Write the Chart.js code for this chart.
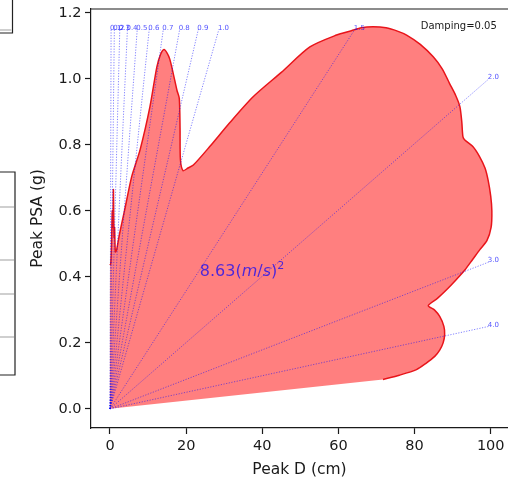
<!DOCTYPE html>
<html>
<head>
<meta charset="utf-8">
<script src="https://cdn.jsdelivr.net/npm/chart.js@4.4.0/dist/chart.umd.min.js"></script>
<style>
    body { margin: 0; background: #fff; }
    canvas { display: block; }
</style>
</head>
<body>
<canvas id="myChart" width="508" height="483"></canvas>
<script>
// spectrum trace: Peak D (cm) against Peak PSA (g)
const peakD = [0, 0.2, 0.4, 0.6, 0.75, 0.9, 1.05, 1.2, 1.4, 1.7, 2.5, 3.8, 5.7, 7.9, 10.5, 12.3, 13.3, 14.2,
    15.0, 15.7, 16.6, 17.6, 18.2, 18.4, 18.5, 19.2, 20.5, 21.9, 26.2, 31.5, 37.6, 45, 52.5, 59.5, 63.4,
    66, 69.1, 72.5, 75.5, 77.9, 81.5, 84.9, 87.3, 89.2, 90.8, 91.9, 92.4, 92.7, 93.2, 95.3, 97.1, 98.5,
    99.3, 100, 100.3, 100.1, 99, 97.1, 95.2, 93.2, 90.8, 88.4, 86, 83.6, 85.2, 86.6, 87.7, 87.9, 87.5,
    86.6, 85.3, 83, 80.5, 76, 71.7];
const peakPSA = [0.436, 0.44, 0.5, 0.6, 0.55, 0.665, 0.52, 0.55, 0.476, 0.48, 0.53, 0.6, 0.704, 0.785, 0.916, 1.036, 1.075, 1.089,
    1.078, 1.06, 1.017, 0.965, 0.941, 0.85, 0.755, 0.722, 0.73, 0.739, 0.795, 0.868, 0.946, 1.02, 1.097, 1.133, 1.146,
    1.155, 1.158, 1.155, 1.145, 1.133, 1.105, 1.067, 1.03, 0.986, 0.95, 0.916, 0.87, 0.825, 0.815, 0.795, 0.764, 0.73,
    0.694, 0.645, 0.6, 0.55, 0.51, 0.482, 0.452, 0.421, 0.39, 0.361, 0.335, 0.313, 0.3, 0.28, 0.25, 0.225, 0.2,
    0.178, 0.159, 0.138, 0.119, 0.102, 0.089];

// constant period guide lines (s), each from the origin to its end point
const periods = ['0.1', '0.2', '0.3', '0.4', '0.5', '0.6', '0.7', '0.8', '0.9', '1.0', '1.5', '2.0', '3.0', '4.0'];
const periodEndD = [0.286, 1.144, 2.575, 4.577, 7.15, 10.3, 14.0, 18.3, 23.2, 28.6, 64.3, 99.5, 99.5, 99.5];
const periodEndPSA = [1.15, 1.15, 1.15, 1.15, 1.15, 1.15, 1.15, 1.15, 1.15, 1.15, 1.15, 1.0, 0.445, 0.25];

const xTicks = [0, 20, 40, 60, 80, 100];
const yTicks = [0, 0.2, 0.4, 0.6, 0.8, 1.0, 1.2];

const areaValue = '8.63';
const dampingText = 'Damping=0.05';

const FONT = '"DejaVu Sans", "Liberation Sans", sans-serif';
Chart.defaults.font.family = FONT;
Chart.defaults.color = '#1a1a1a';

const trace = peakD.map((d, i) => ({ x: d, y: peakPSA[i] }));

let datasets = periods.map((p, i) => ({
    label: 'T=' + p,
    data: [{ x: 0, y: 0 }, { x: periodEndD[i], y: periodEndPSA[i] }],
    borderColor: 'rgba(0,0,255,0.55)',
    borderWidth: 0.9,
    borderDash: [1.2, 1.5],
    pointRadius: 0,
    fill: false,
    order: 1
}));

datasets.push({
    label: 'spectrum',
    data: trace,
    borderColor: '#e8141a',
    borderWidth: 1.5,
    tension: 0.25,
    pointRadius: 0,
    fill: false,
    order: 2
});

datasets.push({
    label: 'area',
    data: [{ x: 0, y: 0 }].concat(trace),
    borderColor: 'transparent',
    borderWidth: 0,
    tension: 0.25,
    backgroundColor: 'rgba(255,0,0,0.5)',
    pointRadius: 0,
    fill: 'shape',
    order: 3
});

// bits of the neighbouring panel cut off at the left edge, plus the top spine
const framePlugin = {
    id: 'frame',
    beforeDraw(chart) {
        const ctx = chart.ctx;
        ctx.save();
        ctx.strokeStyle = '#222';
        ctx.lineWidth = 1.2;
        ctx.beginPath();
        ctx.moveTo(0, 33); ctx.lineTo(12.5, 33); ctx.lineTo(12.5, 0);
        ctx.moveTo(0, 172); ctx.lineTo(15, 172); ctx.lineTo(15, 375); ctx.lineTo(0, 375);
        ctx.stroke();
        ctx.strokeStyle = '#cfcfcf';
        ctx.lineWidth = 2;
        ctx.beginPath();
        ctx.moveTo(0, 30); ctx.lineTo(11.5, 30);
        [207, 260, 294, 337].forEach(yy => { ctx.moveTo(0, yy); ctx.lineTo(14, yy); });
        ctx.stroke();
        ctx.restore();
    },
    afterDraw(chart) {
        const ctx = chart.ctx;
        const a = chart.chartArea;
        ctx.save();
        ctx.strokeStyle = '#1a1a1a';
        ctx.lineWidth = 1.2;
        ctx.beginPath();
        ctx.moveTo(a.left, a.top);
        ctx.lineTo(a.right, a.top);
        ctx.stroke();
        ctx.restore();
    }
};

const textPlugin = {
    id: 'texts',
    afterDatasetsDraw(chart) {
        const ctx = chart.ctx;
        const xs = chart.scales.x;
        const ys = chart.scales.y;
        ctx.save();

        ctx.font = '7px ' + FONT;
        ctx.fillStyle = 'rgba(0,0,255,0.7)';
        ctx.textAlign = 'left';
        ctx.textBaseline = 'middle';
        periods.forEach((p, i) => {
            ctx.fillText(p, xs.getPixelForValue(periodEndD[i]) - 1, ys.getPixelForValue(periodEndPSA[i]) - 1.5);
        });

        // 8.63(m/s)^2
        let px = xs.getPixelForValue(23.6);
        const py = ys.getPixelForValue(0.403);
        ctx.fillStyle = 'rgba(0,0,255,0.7)';
        ctx.textBaseline = 'alphabetic';
        const parts = [
            [areaValue + '(', '16px ' + FONT, 0],
            ['m', 'italic 16px ' + FONT, 0],
            ['/', '16px ' + FONT, 0],
            ['s', 'italic 16px ' + FONT, 0],
            [')', '16px ' + FONT, 0],
            ['2', '11px ' + FONT, -7]
        ];
        parts.forEach(([t, f, dy]) => {
            ctx.font = f;
            ctx.fillText(t, px, py + dy);
            px += ctx.measureText(t).width;
        });

        ctx.font = '10px ' + FONT;
        ctx.fillStyle = '#1a1a1a';
        ctx.textAlign = 'right';
        ctx.textBaseline = 'middle';
        ctx.fillText(dampingText, xs.getPixelForValue(101.6), ys.getPixelForValue(1.16));
        ctx.restore();
    }
};

const ctx = document.getElementById('myChart');
const myChart = new Chart(ctx, {
    type: 'line',
    data: { datasets: datasets },
    options: {
        responsive: false,
        animation: false,
        layout: { padding: { top: 9, right: 0, left: 0, bottom: 0 } },
        scales: {
            x: {
                type: 'linear',
                min: -4.99,
                max: 104.54,
                afterBuildTicks: (scale) => { scale.ticks = xTicks.map(v => ({ value: v })); },
                afterFit: (scale) => { scale.height = 55; scale.paddingRight = 0; },
                ticks: {
                    font: { size: 14.5 },
                    color: '#1a1a1a',
                    padding: 4,
                    maxRotation: 0,
                    callback: (v) => String(v)
                },
                grid: {
                    display: true,
                    drawOnChartArea: false,
                    drawTicks: true,
                    tickLength: 6,
                    tickWidth: 1.2,
                    tickColor: '#1a1a1a'
                },
                border: { display: true, color: '#1a1a1a', width: 1.2 },
                title: {
                    display: true,
                    text: 'Peak D (cm)',
                    font: { size: 15.5 },
                    color: '#1a1a1a',
                    padding: { top: 0, bottom: 4 }
                }
            },
            y: {
                type: 'linear',
                min: -0.058,
                max: 1.212,
                afterBuildTicks: (scale) => { scale.ticks = yTicks.map(v => ({ value: v })); },
                afterFit: (scale) => { scale.width = 91; scale.paddingTop = 0; scale.paddingBottom = 0; },
                ticks: {
                    font: { size: 14.5 },
                    color: '#1a1a1a',
                    padding: 3.5,
                    callback: (v) => v.toFixed(1)
                },
                grid: {
                    display: true,
                    drawOnChartArea: false,
                    drawTicks: true,
                    tickLength: 6,
                    tickWidth: 1.2,
                    tickColor: '#1a1a1a'
                },
                border: { display: true, color: '#1a1a1a', width: 1.2 },
                title: {
                    display: true,
                    text: 'Peak PSA (g)',
                    font: { size: 15.5 },
                    color: '#1a1a1a',
                    padding: { top: 29, bottom: 0 }
                }
            }
        },
        plugins: {
            legend: { display: false },
            tooltip: { enabled: false }
        }
    },
    plugins: [framePlugin, textPlugin]
});
</script>
</body>
</html>
